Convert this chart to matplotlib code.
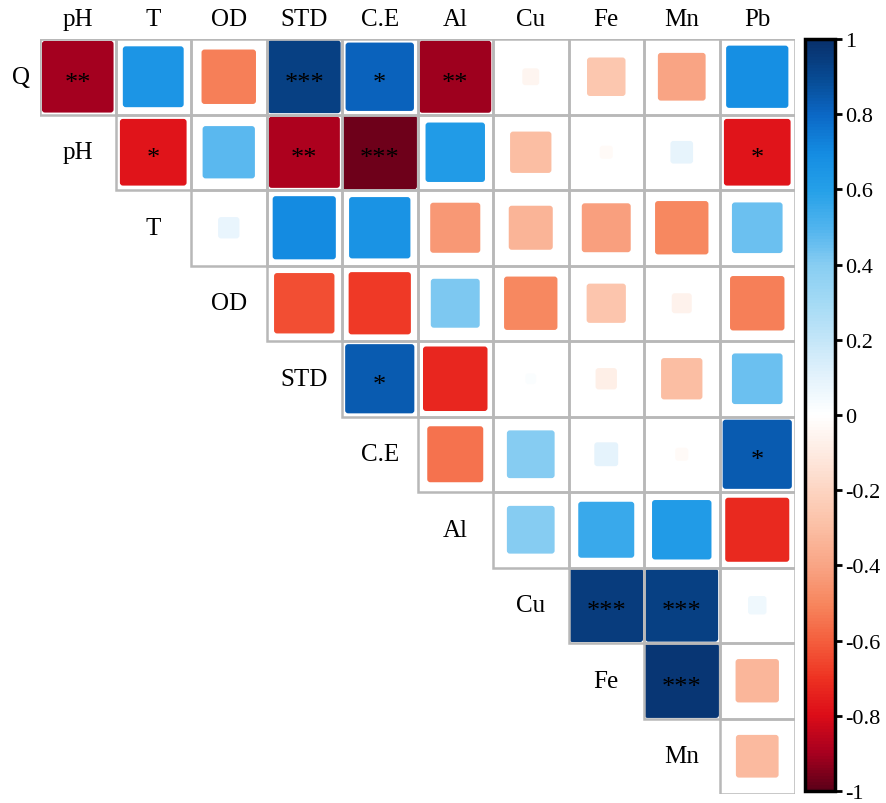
import matplotlib
matplotlib.use("Agg")
import matplotlib.pyplot as plt
import numpy as np
from matplotlib.colors import LinearSegmentedColormap, Normalize
from matplotlib.patches import FancyBboxPatch, Rectangle
import matplotlib.colorbar as mcolorbar

plt.rcParams["font.family"] = ["Liberation Serif", "DejaVu Serif"]
plt.rcParams["axes.unicode_minus"] = False

# variables (rows / columns of the upper triangle)
row_names = ["Q", "pH", "T", "OD", "STD", "C.E", "Al", "Cu", "Fe", "Mn"]
col_names = ["pH", "T", "OD", "STD", "C.E", "Al", "Cu", "Fe", "Mn", "Pb"]

# correlation values, row i holds columns i..9
r_Q = [-0.90, 0.65, -0.52, 0.93, 0.82, -0.91, -0.05, -0.26, -0.40, 0.68]
r_pH = [-0.78, 0.48, -0.89, -0.97, 0.62, -0.30, -0.03, 0.09, -0.78]
r_T = [0.08, 0.70, 0.66, -0.44, -0.34, -0.42, -0.50, 0.45]
r_OD = [-0.64, -0.68, 0.42, -0.50, -0.27, -0.07, -0.52]
r_STD = [0.84, -0.73, 0.02, -0.08, -0.30, 0.45]
r_CE = [-0.55, 0.40, 0.10, -0.03, 0.84]
r_Al = [0.40, 0.55, 0.62, -0.72]
r_Cu = [0.95, 0.93, 0.06]
r_Fe = [0.97, -0.33]
r_Mn = [-0.32]
corr_rows = [r_Q, r_pH, r_T, r_OD, r_STD, r_CE, r_Al, r_Cu, r_Fe, r_Mn]

# significance marks
s_Q = ["**", "", "", "***", "*", "**", "", "", "", ""]
s_pH = ["*", "", "**", "***", "", "", "", "", "*"]
s_T = [""] * 8
s_OD = [""] * 7
s_STD = ["*", "", "", "", "", ""]
s_CE = ["", "", "", "", "*"]
s_Al = [""] * 4
s_Cu = ["***", "***", ""]
s_Fe = ["***", ""]
s_Mn = [""]
sig_rows = [s_Q, s_pH, s_T, s_OD, s_STD, s_CE, s_Al, s_Cu, s_Fe, s_Mn]

cbar_ticks = [1, 0.8, 0.6, 0.4, 0.2, 0, -0.2, -0.4, -0.6, -0.8, -1]

cmap = LinearSegmentedColormap.from_list(
    "corr",
    [
        (0.0, "#5c0018"),
        (0.05, "#a8001f"),
        (0.1, "#dc0c18"),
        (0.15, "#ee3322"),
        (0.2, "#f4603e"),
        (0.25, "#f7875f"),
        (0.3, "#f9a585"),
        (0.35, "#fbbfa4"),
        (0.4, "#fdd5c2"),
        (0.45, "#feebe2"),
        (0.5, "#ffffff"),
        (0.55, "#e4f3fc"),
        (0.6, "#c4e6f8"),
        (0.65, "#a4daf5"),
        (0.7, "#88cdf2"),
        (0.75, "#50b4ee"),
        (0.8, "#25a0e8"),
        (0.85, "#148ce2"),
        (0.9, "#0b68c6"),
        (0.95, "#074a92"),
        (1.0, "#08306b"),
    ],
)
norm = Normalize(-1, 1)

fig = plt.figure(figsize=(8.86, 8.04), dpi=100)
ax = fig.add_axes([40 / 886, 1 - 795 / 804, 755 / 886, 755 / 804])
n = len(row_names)
ax.set_xlim(0, n)
ax.set_ylim(n, 0)
ax.axis("off")

for i, (vals, sigs) in enumerate(zip(corr_rows, sig_rows)):
    for k, (r, s) in enumerate(zip(vals, sigs)):
        j = i + k
        ax.add_patch(Rectangle((j, i), 1, 1, fill=False, edgecolor="#b8b8b8",
                               linewidth=1.8, zorder=3))
        side = np.sqrt(abs(r))
        off = (1 - side) / 2
        ax.add_patch(FancyBboxPatch((j + off, i + off), side, side,
                                    boxstyle="round,pad=0,rounding_size=0.04",
                                    facecolor=cmap(norm(r)), edgecolor="none",
                                    zorder=2))
        if s:
            ax.text(j + 0.5, i + 0.58, s, ha="center", va="center",
                    fontsize=19, color="black", zorder=4)

# column labels on top
for j, name in enumerate(col_names):
    ax.text(j + 0.5, -0.27, name, ha="center", va="center", fontsize=18,
            clip_on=False)

# row labels, placed on the diagonal
ax.text(-0.25, 0.5, row_names[0], ha="center", va="center", fontsize=18,
        clip_on=False)
for i in range(1, n):
    ax.text(i - 0.5, i + 0.5, row_names[i], ha="center", va="center",
            fontsize=18)

cax = fig.add_axes([805 / 886, 1 - 792 / 804, 30 / 886, 752 / 804])
cb = mcolorbar.ColorbarBase(cax, cmap=cmap, norm=norm, orientation="vertical")
cb.set_ticks(cbar_ticks)
cb.set_ticklabels([f"{t:g}" for t in cbar_ticks])
cb.outline.set_linewidth(2.5)
cax.tick_params(length=5, width=2, labelsize=16, pad=2)

fig.savefig("out.png", dpi=100)
